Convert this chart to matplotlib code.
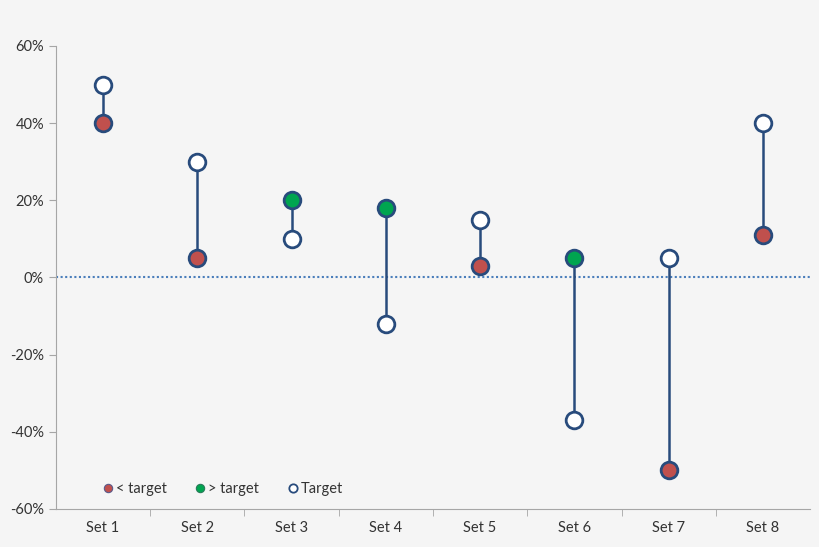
import matplotlib.pyplot as plt
import numpy as np
from matplotlib.ticker import FuncFormatter, FixedLocator
from matplotlib.lines import Line2D

# dumbbell chart: actual vs target per set
sets = ["Set 1", "Set 2", "Set 3", "Set 4", "Set 5", "Set 6", "Set 7", "Set 8"]
target = [50, 30, 10, -12, 15, -37, 5, 40]
actual = [40, 5, 20, 18, 3, 5, -50, 11]

bg = "#f5f5f5"
edge = "#284b7c"
red = "#c0504d"
green = "#00a550"

plt.rcParams['font.family'] = ['Lato', 'DejaVu Sans']
fig = plt.figure(figsize=(8.2, 5.47), dpi=100, facecolor=bg)
ax = fig.add_axes([0.068, 0.0695, 0.92, 0.8465], facecolor=bg)

x = np.arange(len(sets))
for i in x:
    ax.plot([i, i], [target[i], actual[i]], color=edge, lw=1.8, zorder=2)

ax.axhline(0, color="#4a7ebb", lw=1.5, ls=(0, (1, 1.2)), zorder=1)

below = [a < t for a, t in zip(actual, target)]
xb = [i for i in x if below[i]]
xa = [i for i in x if not below[i]]
ax.plot(xb, [actual[i] for i in xb], 'o', ms=12, mfc=red, mec=edge, mew=2,
        ls='none', zorder=3)
ax.plot(xa, [actual[i] for i in xa], 'o', ms=12, mfc=green, mec=edge, mew=2,
        ls='none', zorder=3)
ax.plot(x, target, 'o', ms=12, mfc="white", mec=edge, mew=2,
        ls='none', zorder=3)

ax.set_xlim(-0.5, 7.5)
ax.set_ylim(-60, 60)
ax.set_yticks(range(-60, 61, 20))
ax.yaxis.set_major_formatter(FuncFormatter(lambda v, p: f"{int(v)}%"))
ax.set_xticks(x)
ax.set_xticklabels(sets)
ax.xaxis.set_minor_locator(FixedLocator(np.arange(0.5, 7.5, 1)))
ax.tick_params(axis='x', which='major', length=0, pad=9, labelsize=10.5, colors="#333333")
ax.tick_params(axis='x', which='minor', length=5, color="#a6a6a6")
ax.tick_params(axis='y', length=5, color="#a6a6a6", labelsize=10.5, labelcolor="#333333")

for s in ("top", "right"):
    ax.spines[s].set_visible(False)
for s in ("left", "bottom"):
    ax.spines[s].set_color("#a6a6a6")

handles = [
    Line2D([], [], marker='o', ls='none', ms=6, mfc=red, mec="#5a5a8a", mew=0.8),
    Line2D([], [], marker='o', ls='none', ms=6, mfc=green, mec="#2a7a5a", mew=0.8),
    Line2D([], [], marker='o', ls='none', ms=6, mfc="white", mec=edge, mew=1.3),
]
leg = ax.legend(handles, ["< target", "> target", "Target"], loc="lower left",
                bbox_to_anchor=(0.047, 0.0), ncol=3, frameon=False,
                handlelength=0.5, handletextpad=0.3,
                columnspacing=2.05, fontsize=10.5)
for t in leg.get_texts():
    t.set_color("#333333")

fig.savefig("out.png", dpi=100, facecolor=bg)
